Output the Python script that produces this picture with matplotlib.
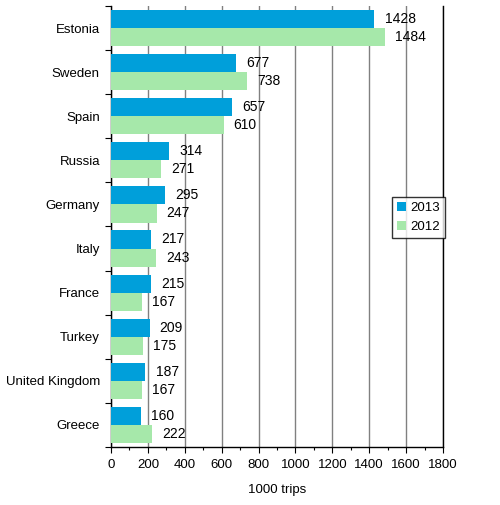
import numpy as np
import matplotlib
matplotlib.use("Agg")
from matplotlib import pyplot as plt
from matplotlib.ticker import MultipleLocator, FixedLocator, NullFormatter

countries = ["Estonia", "Sweden", "Spain", "Russia", "Germany", "Italy",
             "France", "Turkey", "United Kingdom", "Greece"]
trips_2013 = [1428, 677, 657, 314, 295, 217, 215, 209, 187, 160]
trips_2012 = [1484, 738, 610, 271, 247, 243, 167, 175, 167, 222]

blue = "#009fda"
green = "#a6e8aa"

plt.rcParams["font.family"] = ["Liberation Sans", "DejaVu Sans"]
plt.rcParams["font.size"] = 9.5

fig = plt.figure(figsize=(5.0, 5.05), dpi=100)
ax = fig.add_axes([0.222, 0.115, 0.664, 0.873])

y = np.arange(len(countries))
h = 0.41
ax.barh(y - h / 2, trips_2013, height=h, color=blue, label="2013", zorder=3)
ax.barh(y + h / 2, trips_2012, height=h, color=green, label="2012", zorder=3)

# value labels a bit off the bar end
for yi, v in zip(y, trips_2013):
    ax.text(v + 55, yi - h / 2, str(v), va="center", ha="left", fontsize=10)
for yi, v in zip(y, trips_2012):
    ax.text(v + 55, yi + h / 2, str(v), va="center", ha="left", fontsize=10)

ax.set_ylim(len(countries) - 0.5, -0.5)
ax.set_xlim(0, 1800)
ax.xaxis.set_major_locator(MultipleLocator(200))
ax.xaxis.set_minor_locator(MultipleLocator(100))
ax.tick_params(axis="x", which="major", direction="out", length=4, width=0.8, pad=5)
ax.tick_params(axis="x", which="minor", direction="out", length=2.5, width=0.8)

ax.set_yticks(y)
ax.set_yticklabels(countries)
ax.tick_params(axis="y", which="major", length=0, pad=8)
ax.yaxis.set_minor_locator(FixedLocator(np.arange(len(countries) + 1) - 0.5))
ax.yaxis.set_minor_formatter(NullFormatter())
ax.tick_params(axis="y", which="minor", direction="out", length=4, width=0.8)

ax.grid(axis="x", which="major", color="#808080", linewidth=1, zorder=0)
ax.set_axisbelow(True)
ax.spines["top"].set_visible(False)
for s in ["left", "bottom", "right"]:
    ax.spines[s].set_linewidth(1)

ax.set_xlabel("1000 trips", labelpad=9)

leg = ax.legend(loc="center left", bbox_to_anchor=(0.845, 0.52), frameon=True,
                fancybox=False, handlelength=0.7, handleheight=0.7,
                handletextpad=0.3, borderpad=0.4, labelspacing=0.5,
                borderaxespad=0)
leg.get_frame().set_edgecolor("black")
leg.get_frame().set_linewidth(1)

fig.savefig("out.png", dpi=100)
